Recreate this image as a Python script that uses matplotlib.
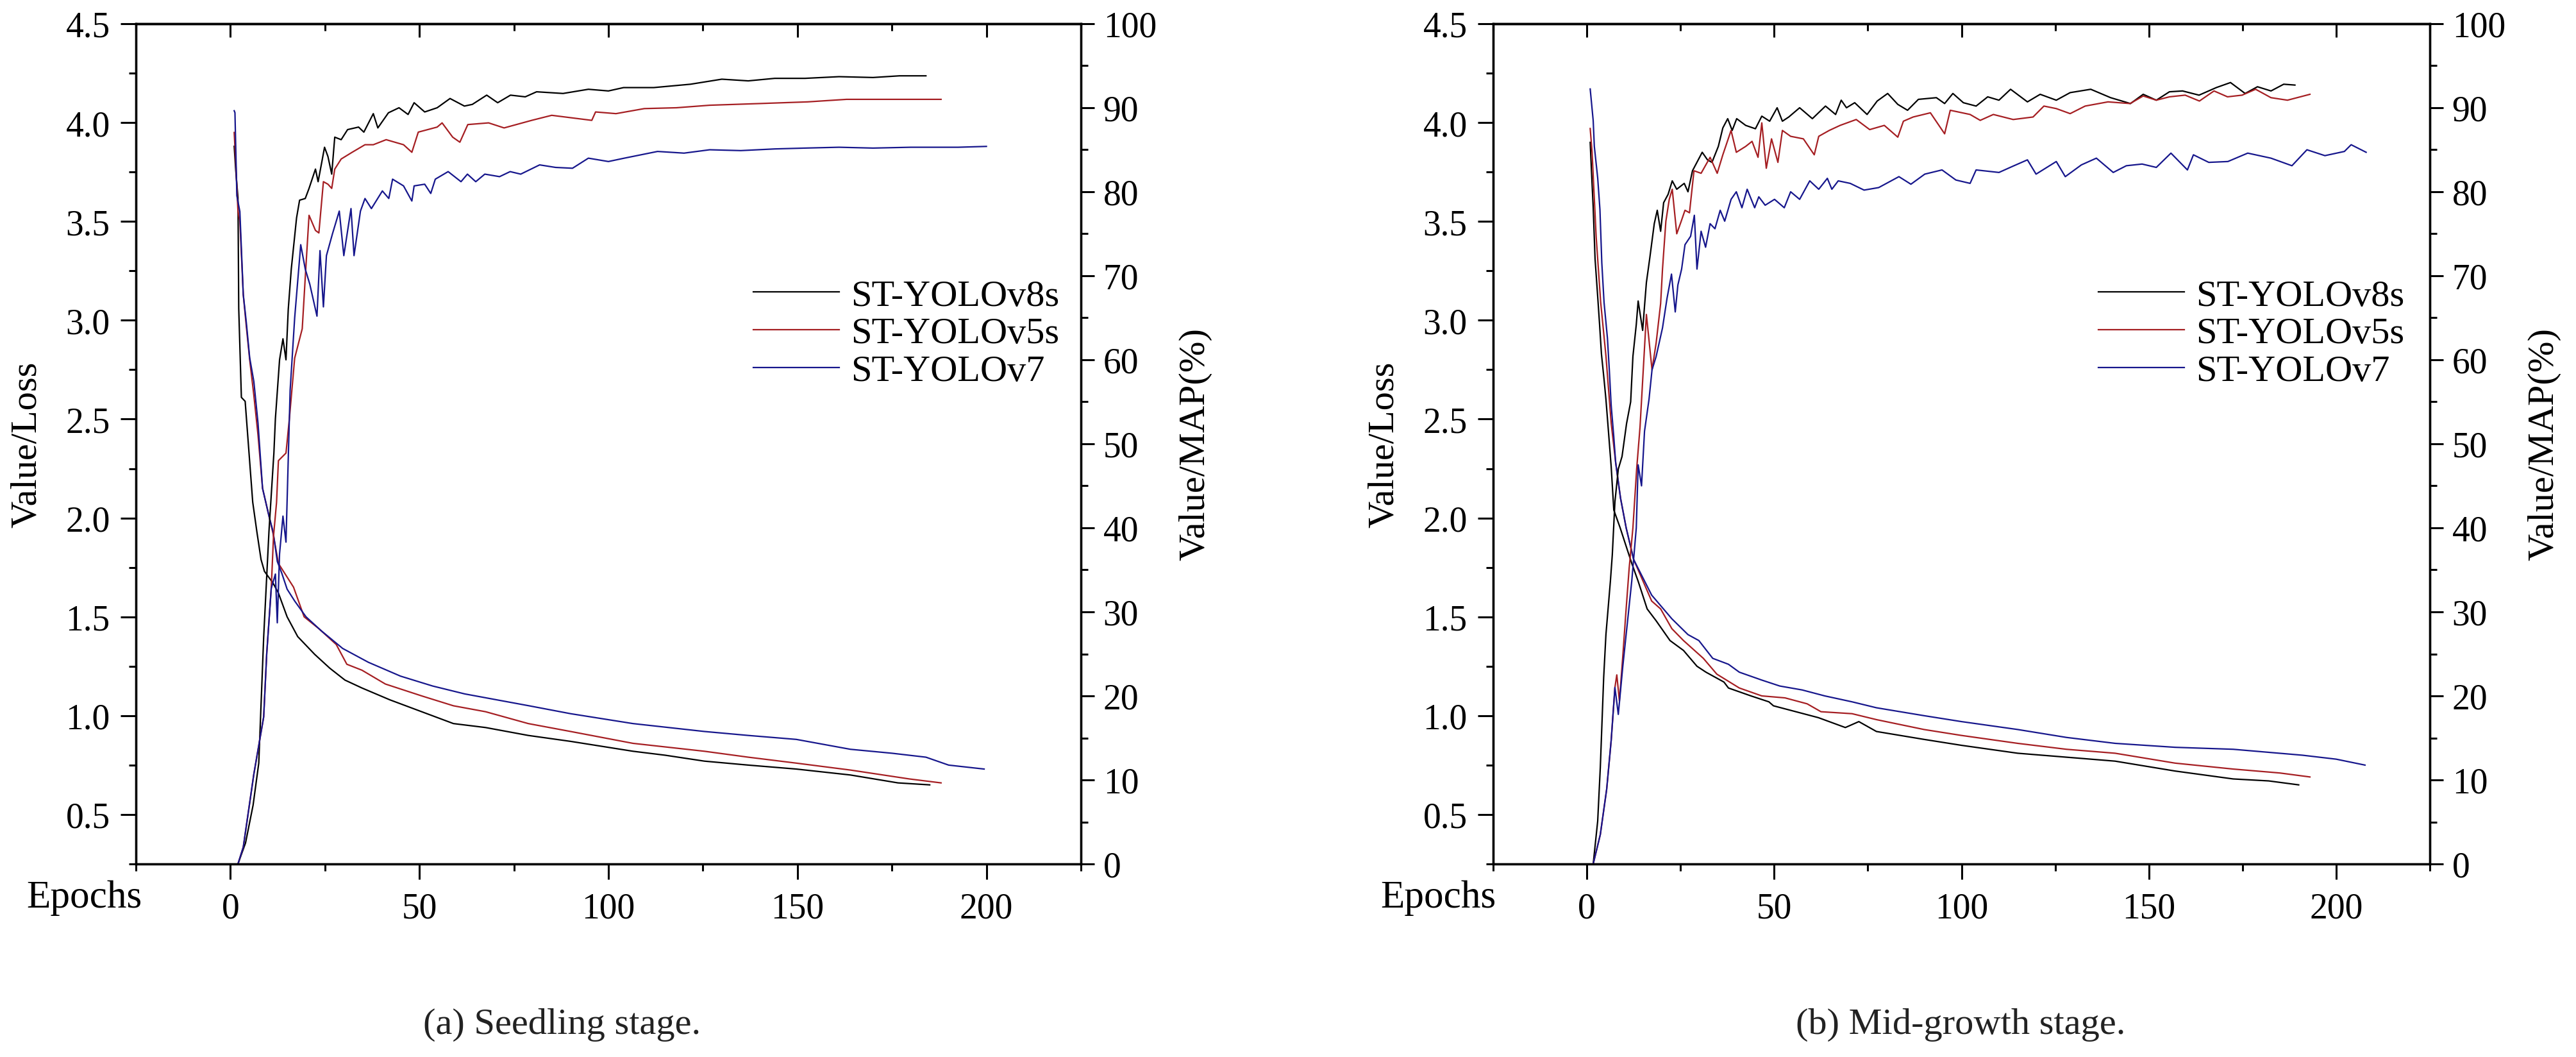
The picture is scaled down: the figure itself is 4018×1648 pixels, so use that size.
import matplotlib
matplotlib.use('Agg')
import matplotlib.pyplot as plt
from matplotlib.ticker import MultipleLocator, FormatStrFormatter

plt.rcParams['font.family'] = ['Liberation Serif', 'DejaVu Serif']

series_names = ['ST-YOLOv8s', 'ST-YOLOv5s', 'ST-YOLOv7']
colors = ['#000000', '#A51E22', '#16168C']
captions = ['(a) Seedling stage.', '(b) Mid-growth stage.']

# ---------------- Panel (a): Seedling stage ----------------
# mAP (%), right axis: (epoch, value)
a_map_v8 = [(2,0),(4,2.5),(6,7),(7.5,12),(8.8,27),(10.2,39.6),(11.5,48.9),(11.9,53),(13,60),(13.9,62.5),(14.7,60),(15.3,66),(16.1,70.8),(17.5,76.9),(18.3,79),(19.8,79.2),(20.8,80.4),(22.5,82.7),(23.2,81.2),(24.2,83.6),(24.9,85.3),(25.8,84.2),(26.8,82.1),(27.6,86.5),(29.3,86.2),(31,87.4),(33.9,87.7),(35.3,87.1),(37.8,89.3),(39,87.6),(41.8,89.4),(44.6,90.0),(47,89.2),(48.6,90.6),(51.4,89.5),(54.7,90.0),(58.1,91.1),(61.9,90.2),(64,90.4),(67.8,91.5),(70.7,90.6),(74.1,91.5),(78,91.3),(81,91.9),(88,91.7),(94.7,92.2),(100,92.0),(104,92.4),(112,92.4),(121.7,92.8),(130,93.4),(137,93.2),(144,93.5),(152,93.5),(161,93.7),(170,93.6),(177,93.8),(184,93.8)]
a_map_v5 = [(2,0),(3.4,2),(6.2,10.7),(8.8,17.5),(9.6,25),(10.8,32.8),(11.4,39),(12.2,43),(12.7,48),(14.7,48.9),(15.6,53),(17,60.2),(19,63.7),(19.8,69.8),(20.8,77.2),(22.5,75.4),(23.4,75.1),(24.6,81.2),(25.8,80.9),(26.8,80.4),(27.6,82.7),(29.3,83.9),(32.2,84.7),(35.6,85.6),(37.8,85.6),(41.2,86.2),(45.8,85.6),(48,84.7),(49.7,87.1),(54.7,87.7),(56,88.2),(58.8,86.5),(60.7,85.9),(62.8,88),(68.3,88.2),(72.4,87.6),(79.7,88.5),(85,89.1),(95.6,88.5),(96.6,89.5),(102,89.3),(109.5,89.9),(118,90.0),(126.8,90.3),(140,90.5),(152.7,90.7),(163,91.0),(175,91.0),(188,91.0)]
a_map_v7 = [(2,0),(3.4,2),(6.2,10.7),(8.8,17.5),(9.6,25),(10.8,32.8),(11.9,34.5),(12.4,28.7),(13,36.9),(13.9,41.4),(14.7,38.3),(15.3,48.2),(15.8,56.4),(17,65),(18.6,73.7),(19.8,70.8),(21,69),(22.9,65.2),(23.7,73),(24.6,66.3),(25.4,72.4),(27,75),(28.8,77.7),(30,72.4),(31.9,78),(32.7,72.4),(34.4,77.7),(35.6,79.2),(37.3,78),(40.2,80.1),(41.9,79.2),(42.9,81.5),(45.8,80.7),(48,78.9),(48.6,80.7),(51.4,80.9),(53,79.8),(54.2,81.5),(57.6,82.4),(61,81.2),(62.7,82.1),(64.9,81.2),(67.3,82.1),(71.2,81.8),(74,82.4),(76.8,82.1),(81.8,83.2),(86,82.9),(90.5,82.8),(94.7,84),(100,83.6),(104.2,84),(113,84.8),(120,84.6),(126.8,85),(135,84.9),(144,85.1),(152,85.2),(161,85.3),(170,85.2),(180,85.3),(192.5,85.3),(200,85.4)]
# Loss, left axis: (epoch, value)
a_loss_v8 = [(1,3.88),(1.4,3.76),(2,3.62),(2.2,3.06),(2.9,2.61),(3.9,2.59),(4.8,2.36),(5.9,2.08),(7,1.93),(8.1,1.79),(9,1.73),(11.3,1.67),(12.7,1.62),(15,1.50),(17.8,1.40),(22.3,1.31),(26.3,1.24),(30.3,1.18),(34.8,1.14),(42.2,1.08),(50.6,1.02),(59,0.96),(67.5,0.94),(78.8,0.90),(90,0.87),(106.5,0.82),(115,0.80),(125.4,0.77),(137,0.75),(149.7,0.73),(164,0.70),(176.6,0.66),(185,0.65)]
a_loss_v5 = [(1,3.95),(1.4,3.80),(2,3.55),(2.5,3.50),(3.4,3.13),(4.2,2.97),(5.1,2.80),(6.2,2.62),(7.3,2.42),(8.5,2.15),(10.2,2.01),(11.3,1.92),(12.7,1.77),(16.7,1.65),(19.5,1.50),(23.4,1.44),(28,1.36),(30.8,1.26),(34.8,1.23),(41,1.16),(50.6,1.10),(59,1.05),(67.5,1.02),(78.8,0.96),(90,0.92),(106.5,0.86),(125.4,0.82),(137,0.79),(149.7,0.76),(164,0.725),(179.6,0.68),(188,0.66)]
a_loss_v7 = [(1,4.06),(1.2,4.05),(1.7,3.63),(2.5,3.55),(3.4,3.13),(4.2,2.99),(5.1,2.81),(6.2,2.69),(7.3,2.48),(8.5,2.15),(10.2,2.01),(11.3,1.93),(12.4,1.78),(13.6,1.72),(15,1.64),(17,1.58),(20,1.50),(24,1.43),(29.7,1.34),(36.5,1.27),(45,1.20),(53.5,1.15),(62,1.11),(70.5,1.08),(79,1.05),(90,1.01),(106.5,0.96),(125.4,0.92),(137,0.90),(149.7,0.88),(164,0.83),(175,0.81),(184,0.79),(190,0.75),(199.4,0.73)]

# ---------------- Panel (b): Mid-growth stage ----------------
b_map_v8 = [(1.7,0),(2.9,5.1),(3.6,11.5),(4.5,22.2),(5.1,27.3),(6.3,33.7),(6.8,36.8),(7.5,43.1),(8.4,47),(9.4,48.5),(10.6,52.4),(11.7,55),(12.3,60.4),(13.2,64.2),(13.7,67),(14.9,63.5),(15.4,66.4),(15.9,69.2),(16.8,72.1),(18,76.2),(18.8,77.8),(19.7,75.3),(20.5,78.7),(21.7,79.7),(22.8,81.3),(24,80.3),(26,81),(27,80),(28.2,82.5),(30.8,84.7),(32.2,83.8),(33.4,83.5),(35.1,85.4),(36.3,87.6),(37.6,88.7),(38.8,87.3),(40,88.7),(42.4,87.9),(45,87.5),(46.7,89),(48.8,88.4),(50.8,90),(52.2,88.4),(53.9,88.9),(56.8,90),(60.2,88.7),(63.7,90.2),(66.4,89.2),(67.9,90.9),(69.3,90),(71.5,90.6),(74.8,89.2),(77.5,90.8),(80.3,91.7),(83,90.4),(85.6,89.7),(88.5,91),(93.3,91.2),(95.5,90.5),(97.7,91.7),(100.5,90.6),(103.9,90.2),(107,91.3),(110,90.9),(113.1,92.2),(117.6,90.7),(121,91.6),(125.3,90.9),(129,91.8),(134.5,92.2),(139.8,91.2),(145.1,90.5),(148.5,91.6),(152,90.9),(155.5,91.9),(159,92),(163.4,91.5),(168,92.4),(171.8,93),(175.7,91.7),(179,92.5),(182.6,92),(186,92.8),(189,92.7)]
b_map_v5 = [(1.7,0),(3.6,3.5),(5.3,8.9),(6.5,14.7),(7.5,21),(8,22.5),(8.7,19.4),(9.6,24.7),(10.4,29.8),(11.3,35.2),(12.3,40),(13.3,47),(14.2,52),(15.9,65.4),(17.4,58.8),(18.5,62),(19.7,66.7),(20.2,70.8),(21.1,76.5),(22,79.1),(22.8,80.3),(24,75),(25.2,76.5),(26.2,77.8),(27.4,77.5),(28.6,82.5),(30.5,82.2),(32.9,84.1),(34.8,82.2),(36.3,84.4),(38.5,87.3),(39.9,84.7),(42.4,85.4),(44.1,86),(45.7,84.1),(46.7,88.2),(47.9,82.8),(49.3,86.3),(51,83.5),(52.2,87.3),(54.4,86.6),(57.8,86.3),(60.7,84.4),(61.9,86.6),(64.7,87.3),(67.6,87.9),(71.9,88.6),(75.5,87.4),(79.4,87.9),(83,86.5),(84.5,88.4),(87.1,88.9),(91.7,89.4),(95.5,86.9),(97,89.7),(102.3,89.2),(105,88.5),(108.5,89.2),(113.8,88.6),(119.1,88.9),(122,90.2),(125.3,89.9),(129,89.3),(133,90.2),(139.1,90.7),(145,90.5),(148.5,91.4),(152,90.9),(155.5,91.3),(159.7,91.5),(163.5,90.8),(167.4,92),(171,91.3),(174.9,91.5),(178.5,92.2),(182.6,91.2),(187,90.9),(193,91.6)]
b_map_v7 = [(1.7,0),(3.6,3.5),(5.3,8.9),(6.5,14.7),(7.5,21),(8.4,17.8),(9.6,23.5),(12,33.7),(13.2,40),(13.7,47.5),(14.6,45),(15.4,51.5),(16.6,55.3),(17.4,58.8),(18.5,60.4),(20.2,63.8),(21.4,67.3),(22.6,70.2),(23.6,65.7),(24.3,68.9),(25.3,70.8),(26.2,73.7),(27.7,74.7),(28.7,77.2),(29.4,70.8),(30.5,75.3),(31.7,73.4),(32.9,76.2),(34.2,75.6),(35.6,77.8),(36.8,76.5),(38.5,79.1),(39.9,80),(41.4,78.1),(42.8,80.3),(44.8,78.1),(45.9,79.4),(47.6,78.4),(50.1,79.1),(52.7,78.1),(54.4,80),(56.8,79.1),(59.5,81.3),(61.9,80.3),(64.2,81.6),(65.4,80.3),(67.1,81.3),(70.3,81),(74,80.2),(77.9,80.5),(83.3,81.8),(86.5,80.9),(90.2,82.1),(94.8,82.6),(98.5,81.4),(102.3,81),(103.9,82.6),(110,82.3),(113.5,83),(117.6,83.8),(119.9,82.1),(125.3,83.6),(127.7,81.8),(132,83.2),(136,84),(140.5,82.3),(144,83.1),(148.2,83.3),(152,82.9),(155.9,84.6),(160.3,82.6),(161.9,84.4),(166,83.5),(171.1,83.6),(176.4,84.6),(182.6,84),(188.2,83.1),(192.2,85),(197,84.3),(202.2,84.8),(204,85.6),(208,84.7)]
b_loss_v8 = [(0.9,3.90),(1.2,3.77),(1.7,3.57),(2.2,3.31),(2.9,3.12),(3.4,2.98),(3.9,2.83),(4.6,2.70),(5.1,2.60),(5.6,2.48),(6.5,2.26),(7.2,2.04),(8.9,1.95),(10.1,1.88),(12,1.77),(13.7,1.68),(16.1,1.54),(18.5,1.48),(22.2,1.38),(25.8,1.33),(29.4,1.25),(31.8,1.22),(36.6,1.17),(37.8,1.14),(43.8,1.10),(48.6,1.07),(49.8,1.05),(55.8,1.02),(61.8,0.99),(69,0.94),(72.6,0.97),(77.3,0.92),(90,0.88),(100,0.85),(115,0.81),(128,0.79),(141,0.77),(157,0.72),(172.5,0.68),(182,0.67),(190,0.65)]
b_loss_v5 = [(0.9,3.97),(1.4,3.85),(2.5,3.42),(3.7,3.09),(5.1,2.82),(6.5,2.48),(7.7,2.28),(9,2.10),(10.5,1.95),(12.5,1.79),(17.3,1.58),(19.7,1.54),(22.7,1.44),(25.8,1.38),(31.1,1.29),(34.7,1.21),(40.7,1.14),(46.7,1.10),(52.9,1.09),(58.8,1.06),(62.5,1.02),(70.8,1.01),(77.3,0.98),(90,0.93),(100,0.90),(115,0.86),(128,0.83),(141,0.81),(157,0.76),(172.5,0.73),(185,0.71),(193,0.69)]
b_loss_v7 = [(0.9,4.17),(1.7,4.01),(2,3.88),(2.9,3.72),(3.5,3.56),(4,3.29),(4.6,3.09),(5.5,2.91),(6,2.75),(6.5,2.57),(7.2,2.41),(7.7,2.28),(9,2.10),(10.5,1.95),(12.5,1.79),(17.3,1.61),(22.7,1.49),(27,1.41),(29.9,1.38),(33.6,1.29),(37.8,1.26),(40.7,1.22),(46.7,1.18),(51.5,1.15),(57.5,1.13),(63.5,1.10),(70.8,1.07),(77.3,1.04),(90,1.00),(100,0.97),(115,0.93),(128,0.89),(141,0.86),(157,0.84),(172.5,0.83),(191,0.80),(200,0.78),(207.7,0.75)]

W, H = 4018, 1649
fig = plt.figure(figsize=(W / 100, H / 100), dpi=100)
fig.patch.set_facecolor('white')

TICK_FS = 40
LAB_FS = 42


def unzip(pairs):
    return [p[0] for p in pairs], [p[1] for p in pairs]


def make_panel(left_px, right_px, maps, losses, caption, cap_x, leg_x, ylab_x, maplab_x, epochs_x):
    top_px, bot_px = 38, 1348
    ax = fig.add_axes([left_px / W, 1 - bot_px / H, (right_px - left_px) / W, (bot_px - top_px) / H])
    ax2 = ax.twinx()
    for pairs, c in zip(losses, colors):
        e, v = unzip(pairs)
        ax.plot(e, v, color=c, lw=1.6)
    handles = []
    for pairs, c, n in zip(maps, colors, series_names):
        e, m = unzip(pairs)
        h, = ax2.plot(e, m, color=c, lw=1.6, label=n)
        handles.append(h)
    ax.set_xlim(-25, 225)
    ax.set_ylim(0.25, 4.5)
    ax2.set_ylim(0, 100)

    ax.xaxis.set_major_locator(MultipleLocator(50))
    ax.xaxis.set_minor_locator(MultipleLocator(25))
    ax.yaxis.set_major_locator(MultipleLocator(0.5))
    ax.yaxis.set_minor_locator(MultipleLocator(0.25))
    ax.yaxis.set_major_formatter(FormatStrFormatter('%.1f'))
    ax2.yaxis.set_major_locator(MultipleLocator(10))
    ax2.yaxis.set_minor_locator(MultipleLocator(5))

    for a in (ax, ax2):
        for s in a.spines.values():
            s.set_linewidth(2.4)
    ax.tick_params(axis='x', which='major', direction='out', length=17, width=2.2,
                   labelsize=TICK_FS, pad=14, top=False)
    ax.tick_params(axis='x', which='minor', direction='out', length=8, width=2.2, top=False)
    ax.tick_params(axis='y', which='major', direction='out', length=17, width=2.2,
                   labelsize=TICK_FS, pad=12, right=False)
    ax.tick_params(axis='y', which='minor', direction='out', length=8, width=2.2, right=False)
    ax2.tick_params(axis='y', which='major', direction='out', length=15, width=2.2,
                    labelsize=TICK_FS, pad=10)
    ax2.tick_params(axis='y', which='minor', direction='out', length=8, width=2.2)

    sec = ax.secondary_xaxis('top')
    sec.xaxis.set_major_locator(MultipleLocator(50))
    sec.xaxis.set_minor_locator(MultipleLocator(25))
    sec.tick_params(axis='x', which='major', direction='in', length=15, width=2.2,
                    labeltop=False, labelbottom=False)
    sec.tick_params(axis='x', which='minor', direction='in', length=8, width=2.2)
    sec.spines['top'].set_linewidth(2.4)

    leg = fig.legend(handles=handles, loc='upper left',
                     bbox_to_anchor=(leg_x / W, 1 - 436 / H), bbox_transform=fig.transFigure,
                     frameon=False, fontsize=LAB_FS, handlelength=2.3, handletextpad=0.3,
                     labelspacing=0.1, borderpad=0, borderaxespad=0)

    mid_y = 1 - ((top_px + bot_px) / 2) / H
    fig.text(ylab_x / W, mid_y, 'Value/Loss', rotation=90, ha='center', va='center', fontsize=LAB_FS)
    fig.text(maplab_x / W, mid_y, 'Value/MAP(%)', rotation=90, ha='center', va='center', fontsize=LAB_FS)
    fig.text(epochs_x / W, 1 - 1400 / H, 'Epochs', ha='left', va='center', fontsize=44)
    fig.text(cap_x / W, 1 - 1598 / H, caption, ha='center', va='center', fontsize=LAB_FS, color='#222222')
    return ax, ax2


make_panel(212, 1686, [a_map_v8, a_map_v5, a_map_v7], [a_loss_v8, a_loss_v5, a_loss_v7],
           captions[0], 877, 1175, 42, 1864, 41)
make_panel(2329, 3790, [b_map_v8, b_map_v5, b_map_v7], [b_loss_v8, b_loss_v5, b_loss_v7],
           captions[1], 3058, 3273, 2159, 3968, 2153)

fig.savefig('out.png', dpi=100, facecolor='white')
